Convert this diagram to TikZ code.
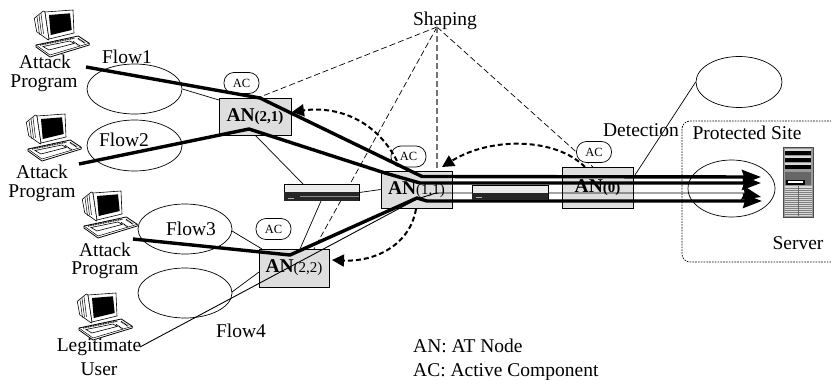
\documentclass[tikz,border=0pt]{standalone}
\usepackage{fontspec}
\setmainfont{Liberation Serif}
\usetikzlibrary{arrows.meta,calc,shapes.geometric}
\definecolor{nodegray}{gray}{0.87}
\tikzset{
  x=1pt,y=-1pt,
  lbl/.style={inner sep=0pt,anchor=base,font=\fontsize{19.5}{19}\selectfont,align=center},
  flowarea/.style={draw,line width=0.7pt,ellipse,inner sep=0pt},
  anbox/.style={draw,line width=0.9pt,fill=nodegray,inner sep=0pt,font=\fontsize{19.5}{20}\selectfont},
  acbox/.style={draw,line width=0.7pt,fill=white,rounded corners=10pt,minimum width=35pt,minimum height=21pt,inner sep=0pt,font=\fontsize{12.5}{13}\selectfont},
  thin link/.style={line width=0.7pt},
  attack/.style={line width=3.4pt,line join=round},
  shapeline/.style={line width=0.7pt,dash pattern=on 6pt off 3pt},
  signal/.style={line width=2pt,dash pattern=on 5pt off 3pt,-{Triangle[length=12pt,width=12pt]}},
  bigtip/.style={-{Stealth[length=19pt,width=14pt,inset=2pt]}},
  pics/pc/.style={code={
    % monitor casing and screen
    \draw[line width=0.6pt,fill=white] (-0.7,8.3) -- (8.3,1) -- (10,2) -- (14,29) -- (13.3,30) -- (1.7,21.7) -- cycle;
    \foreach \k in {2,4,6}{\draw[line width=0.5pt] (\k,{8.3-\k*0.8}) -- (\k+2.5,{25-\k*0.2});}
    \draw[line width=0.6pt,fill=white] (10,2) -- (38,0) -- (39,23) -- (14,29) -- cycle;
    \fill[black] (14,5) -- (35,3.3) -- (36.7,20) -- (15.7,25) -- cycle;
    % keyboard
    \draw[line width=0.8pt,fill=white,line join=round] (1,35) -- (43.3,26) -- (54.3,33.3) -- (54.3,35) -- (15,47) -- (1,37) -- cycle;
    \draw[line width=0.5pt] (1,35) -- (15,45) -- (54.3,33.3);
    \draw[line width=1.2pt,dash pattern=on 1pt off 0.7pt] (5,35) -- (40,28);
    \draw[line width=1.4pt,dash pattern=on 1pt off 0.6pt] (43,28.5) -- (50,33);
    \draw[line width=1.2pt,dash pattern=on 1pt off 0.7pt] (38,31.5) -- (45,36);
    \draw[line width=0.6pt] (8,36.5) -- (35,31) -- (39,33.5) -- (14,40) -- cycle;
  }},
}
\begin{document}
\begin{tikzpicture}
\useasboundingbox (0,0) rectangle (831,380);

% protected site outline
\draw[line width=0.7pt,dash pattern=on 1.6pt off 1.2pt,rounded corners=8pt] (840,121) -- (682,121) -- (682,262) -- (840,262);

% flow regions
\node[flowarea,minimum width=95pt,minimum height=50pt] (e1) at (134.5,89) {};
\node[flowarea,minimum width=95pt,minimum height=51pt] (e2) at (134.5,145.5) {};
\node[flowarea,minimum width=94pt,minimum height=50pt] (e3) at (185,229) {};
\node[flowarea,minimum width=94pt,minimum height=50pt] (e4) at (185,293) {};
\node[flowarea,minimum width=86pt,minimum height=51pt] (e5) at (739,82) {};
\node[flowarea,minimum width=87pt,minimum height=57pt] (e6) at (731.5,188.5) {};

% shaping label and its dashed fan
\node[lbl] (shaping) at (445,26) {Shaping};
\coordinate (apex) at (437,27);
\coordinate (s21) at (260,97);
\coordinate (s22) at (314,249);
\coordinate (s0) at (593,167);
\coordinate (s11) at (437,171);
\draw[shapeline] (apex) -- (s21);
\draw[shapeline] (apex) -- (s22);
\draw[shapeline] (apex) -- (s0);
\draw[line width=1.1pt,dash pattern=on 6pt off 3pt,black!55] (apex) -- (s11);

% access nodes
\node[anbox,minimum width=72pt,minimum height=37pt] (an21) at (255,116.5) {\textbf{AN}\fontsize{15}{15}\selectfont\textbf{(2,1)}};
\node[anbox,minimum width=71pt,minimum height=37pt] (an11) at (416.5,189.5) {\textbf{AN}\fontsize{15}{15}\selectfont(1,1)};
\node[anbox,minimum width=70pt,minimum height=38pt] (an22) at (294,268) {\textbf{AN}\fontsize{15}{15}\selectfont(2,2)};
\node[anbox,minimum width=71pt,minimum height=41pt] (an0) at (597.5,187.5) {\textbf{AN}\fontsize{15}{15}\selectfont\textbf{(0)}};

% routers on the links
\node[draw,line width=0.9pt,fill=black!8,minimum width=75pt,minimum height=16pt,inner sep=0pt] (r1) at (321.5,192.5) {};
\fill[black!85] (284,192) rectangle (359,201);
\draw[black!45,line width=0.5pt] (300,196) -- (359,196);
\fill[white!70!black] (288,197.5) rectangle (294,198.5);

% thin links between nodes and regions
\coordinate (t1) at (219,100);
\coordinate (t3) at (262,249);
\coordinate (t4) at (259,272);
\coordinate (t5a) at (255,135);
\coordinate (t5b) at (303,184);
\coordinate (t6) at (300,249);
\coordinate (t7) at (321,201);
\coordinate (t8) at (635,175);
\draw[thin link] (e1.east) -- (t1);
\draw[thin link] (232,231) -- (t3);
\draw[thin link] (232,292) -- (t4);
\draw[thin link] (t5a) -- (t5b);
\draw[thin link] (t7) -- (t6);
\draw[thin link] (r1.east) -- (an11.west);
\draw[thin link] (t8) -- (e5.west);

% acceptance flags on each node
\node[acbox] (ac21) at (241.5,83) {AC};
\node[acbox] (ac11) at (408.5,156.5) {AC};
\node[acbox] (ac22) at (273.5,229) {AC};
\node[acbox] (ac0) at (594,152) {AC};

% attack traffic
\coordinate (h1) at (86,67);
\coordinate (h2) at (79,164);
\coordinate (h3) at (133,239);
\coordinate (h4) at (140,347);
\coordinate (b1) at (260,98);
\coordinate (b2) at (249,129);
\coordinate (b3) at (290,255);
\coordinate (c1) at (422,176.5);
\coordinate (c2) at (385,173);
\coordinate (c2b) at (420,183);
\coordinate (c3) at (417,198);
\coordinate (c3b) at (427,201);
\coordinate (c4) at (417,199);
\coordinate (c4b) at (436,193);
\coordinate (f1) at (761,177);
\coordinate (f2) at (761,183);
\coordinate (f3) at (761,197);
\coordinate (f4) at (762,201);
\draw[line width=0.9pt,bigtip] (h4) -- (c4) -- (c4b) -- (743,193) -- (f3);
\draw[attack,bigtip] (h1) -- (b1) -- (c1) -- (f1);
\draw[attack,bigtip] (h2) -- (b2) -- (c2) -- (c2b) -- (f2);
\draw[attack,bigtip] (h3) -- (b3) -- (c3) -- (c3b) -- (f4);

% router on the last hop sits above the traffic
\node[draw,line width=0.9pt,fill=black!8,minimum width=76pt,minimum height=15pt,inner sep=0pt] (r2) at (510,192.5) {};
\fill[black!85] (472,192.5) rectangle (548,200);
\fill[white!70!black] (476,196.5) rectangle (482,197.5);

% feedback between nodes
\coordinate (d0) at (585,167);
\coordinate (d11) at (442,167);
\coordinate (d1a) at (397,161);
\coordinate (d21) at (292,112);
\coordinate (d1b) at (416,209);
\coordinate (d22) at (332,260);
\draw[signal] (d0) .. controls (555,137) and (490,137) .. (d11);
\draw[signal] (d1a) .. controls (375,118) and (335,106) .. (d21);
\draw[signal] (d1b) .. controls (410,245) and (375,262) .. (d22);

% hosts
\pic (pc1) at (35,10) {pc};
\pic (pc2) at (27,114) {pc};
\pic (pc3) at (83,191) {pc};
\pic (pc4) at (78,293) {pc};

% server tower
\node[draw=black!70,line width=1pt,fill=black!40,minimum width=30pt,minimum height=70pt,inner sep=0pt] (srv) at (798.5,182) {};
\fill[black!15] (785,186) rectangle (812,216);
\foreach \y in {188,190,...,214}{\draw[black!50,line width=0.6pt] (785,\y) -- (812,\y);}
\draw[black!60,line width=0.7pt] (798.5,186) -- (798.5,216);
\foreach \y in {151,158,165}{
  \fill[black!15] (785,\y-2) rectangle (811,\y);
  \fill[black] (785,\y) rectangle (811,\y+3.5);
}
\fill[black!60] (785,172) rectangle (811,185);
\fill[black] (786,180) rectangle (805,185);
\fill[white] (788,181) rectangle (803,183);

% labels
\node[lbl] (fl1) at (127,63) {Flow1};
\node[lbl] (fl2) at (124,146) {Flow2};
\node[lbl] (fl3) at (191,235) {Flow3};
\node[lbl] (fl4) at (241,337) {Flow4};
\node[lbl] (p1) at (45,68) {Attack};
\node[lbl] (p1b) at (44,87) {Program};
\node[lbl] (p2) at (42,178) {Attack};
\node[lbl] (p2b) at (42,197) {Program};
\node[lbl] (p3) at (105,256) {Attack};
\node[lbl] (p3b) at (105,274) {Program};
\node[lbl] (p4) at (99,351) {Legitimate};
\node[lbl] (p4b) at (99,375) {User};
\node[lbl] (det) at (641,136) {Detection};
\node[lbl] (prot) at (747,139) {Protected Site};
\node[lbl] (serv) at (798,249) {Server};
\node[lbl,anchor=base west] (leg1) at (413,352) {AN: AT Node};
\node[lbl,anchor=base west] (leg2) at (413,376) {AC: Active Component};
\end{tikzpicture}
\end{document}
